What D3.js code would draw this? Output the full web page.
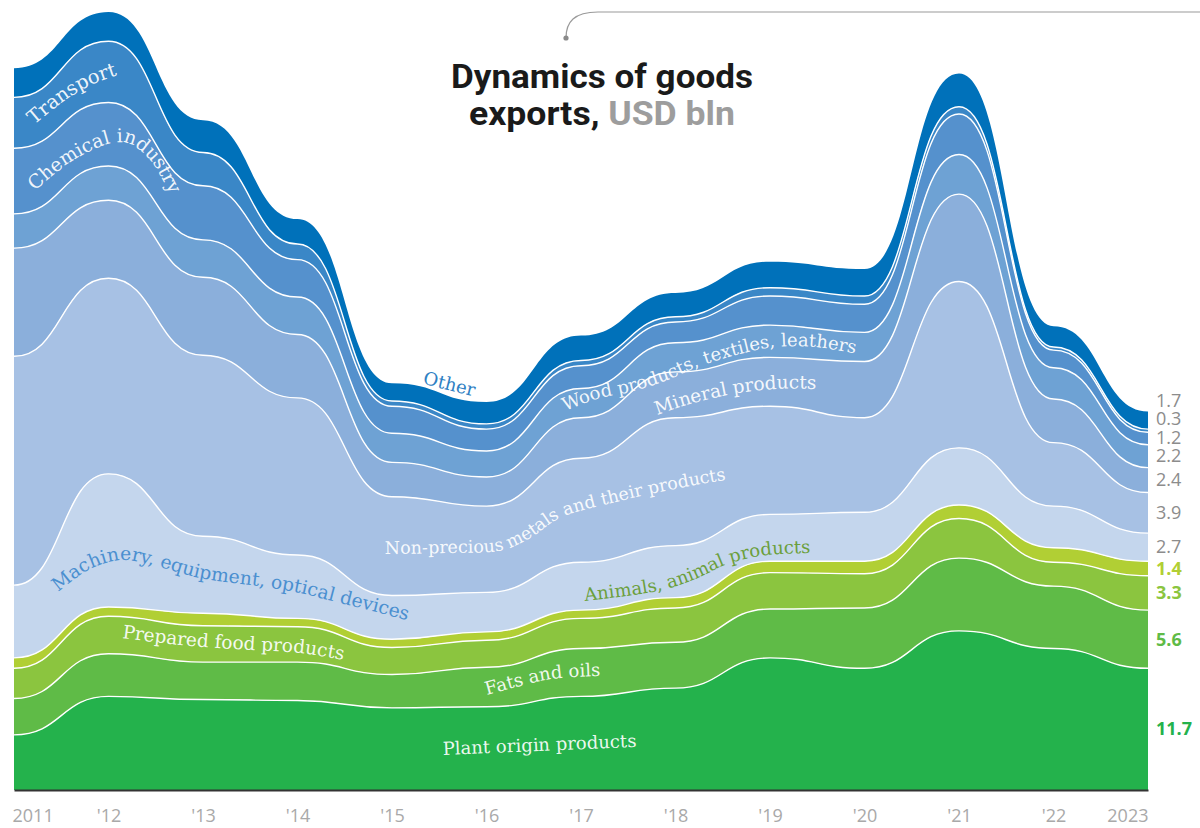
<!DOCTYPE html>
<html>
<head>
<meta charset="utf-8">
<script src="https://cdn.jsdelivr.net/npm/d3@7"></script>
<style>
  body { margin: 0; background: #fff; }
  svg { display: block; }
</style>
</head>
<body>
<svg id="chart" width="1200" height="828"></svg>
<script>
// ---------------- DATA ----------------
const years = [2011, 2012, 2013, 2014, 2015, 2016, 2017, 2018, 2019, 2020, 2021, 2022, 2023];
const tickLabels = ["2011", "'12", "'13", "'14", "'15", "'16", "'17", "'18", "'19", "'20", "'21", "'22", "2023"];

const seriesNames = [
  "Plant origin products",
  "Fats and oils",
  "Prepared food products",
  "Animals, animal products",
  "Machinery, equipment, optical devices",
  "Non-precious metals and their products",
  "Mineral products",
  "Wood products, textiles, leathers",
  "Chemical industry",
  "Transport",
  "Other"
];

const plantOrigin  = [5.3, 9.0, 8.7, 8.6, 7.9, 8.0, 9.0, 9.8, 12.7, 11.7, 15.3, 13.6, 11.7];
const fatsOils     = [3.5, 4.1, 3.6, 3.7, 3.2, 3.8, 4.6, 4.4, 4.7, 5.8, 7.0, 6.0, 5.6];
const preparedFood = [2.9, 3.6, 3.5, 3.4, 2.6, 2.6, 2.9, 3.3, 3.5, 3.3, 3.8, 2.3, 3.3];
const animals      = [1.0, 0.9, 1.2, 0.8, 0.8, 0.8, 0.8, 1.0, 1.1, 1.2, 1.3, 1.4, 1.4];
const machinery    = [7.0, 12.8, 7.4, 6.1, 4.2, 3.8, 4.6, 5.0, 4.5, 4.7, 5.5, 4.0, 2.7];
const metals       = [22.0, 18.8, 17.4, 15.1, 9.5, 8.3, 10.0, 12.3, 10.4, 9.1, 16.0, 6.1, 3.9];
const mineral      = [10.4, 7.5, 7.5, 6.1, 3.3, 2.8, 3.9, 4.4, 4.7, 5.4, 8.4, 4.2, 2.4];
const wood         = [3.3, 3.3, 3.6, 3.6, 2.8, 2.5, 2.8, 2.8, 3.1, 2.8, 3.8, 3.0, 2.2];
const chemical     = [6.3, 6.1, 5.2, 3.6, 2.6, 2.1, 2.2, 2.0, 2.8, 2.7, 3.9, 1.7, 1.2];
const transport    = [4.9, 5.9, 3.2, 1.5, 0.5, 0.5, 0.5, 0.5, 0.8, 0.8, 0.7, 0.3, 0.3];
const other        = [2.8, 2.8, 3.1, 2.4, 1.7, 2.1, 2.4, 2.3, 2.5, 2.6, 3.2, 2.0, 1.7];

const seriesValues = [plantOrigin, fatsOils, preparedFood, animals, machinery, metals,
                      mineral, wood, chemical, transport, other];

// ---------------- STYLE ----------------
const colors = ["#24b24c", "#5fbb47", "#8bc53f", "#b1cf34", "#c4d6ed", "#a7c1e4",
                "#8bafdb", "#6ea2d4", "#5591cd", "#3a87c7", "#0071ba"];
const valueColors = ["#24b24c", "#5fbb47", "#8bc53f", "#b1cf34", "#8c8c8c", "#8c8c8c",
                     "#8c8c8c", "#8c8c8c", "#8c8c8c", "#8c8c8c", "#8c8c8c"];
const valueBold = [true, true, true, true, false, false, false, false, false, false, false];

const svg = d3.select("#chart");
const x = d3.scaleLinear().domain([years[0], years[years.length - 1]]).range([14, 1148]);
const y = d3.scaleLinear().domain([0, 75]).range([790, 10]);

const rows = years.map((yr, i) => {
  const r = { year: yr };
  seriesNames.forEach((k, j) => r[k] = seriesValues[j][i]);
  return r;
});
const layers = d3.stack().keys(seriesNames)(rows);

const area = d3.area()
  .x(d => x(d.data.year))
  .y0(d => y(d[0]))
  .y1(d => y(d[1]))
  .curve(d3.curveBumpX);
const topLine = d3.line()
  .x(d => x(d.data.year))
  .y(d => y(d[1]))
  .curve(d3.curveBumpX);

const g = svg.append("g");
g.selectAll("path.layer").data(layers).join("path")
  .attr("class", "layer")
  .attr("d", area)
  .attr("fill", (d, i) => colors[i]);

g.selectAll("path.sep").data(layers.slice(0, -1)).join("path")
  .attr("class", "sep")
  .attr("d", topLine)
  .attr("fill", "none")
  .attr("stroke", "#ffffff")
  .attr("stroke-width", 1.4);

// ---------------- AXIS ----------------
const axis = d3.axisBottom(x)
  .tickValues(years)
  .tickFormat((d, i) => tickLabels[i])
  .tickSize(0)
  .tickSizeOuter(0);
const ax = svg.append("g").attr("transform", "translate(0,790)").call(axis);
ax.select(".domain").attr("stroke", "#333").attr("stroke-width", 2);
ax.selectAll("text")
  .attr("y", 32).attr("dy", 0)
  .attr("fill", "#a9a9a9")
  .style("font-family", "'Open Sans', sans-serif")
  .style("font-size", "18px");
ax.selectAll(".tick").filter((d, i) => i === 0).select("text").attr("text-anchor", "start").attr("x", -2);
ax.selectAll(".tick").filter((d, i) => i === years.length - 1).select("text").attr("text-anchor", "end").attr("x", 0);

// ---------------- RIGHT VALUE LABELS ----------------
const last = years.length - 1;
let mids = layers.map(L => y((L[last][0] + L[last][1]) / 2));
for (let i = 1; i < mids.length; i++) {
  if (mids[i] > mids[i - 1] - 18.5) mids[i] = mids[i - 1] - 18.5;
}
svg.append("g").selectAll("text").data(layers).join("text")
  .attr("x", 1156)
  .attr("y", (d, i) => mids[i])
  .attr("dy", "0.35em")
  .attr("fill", (d, i) => valueColors[i])
  .style("font-family", "'Open Sans', sans-serif")
  .style("font-size", "18px")
  .style("font-weight", (d, i) => valueBold[i] ? 700 : 400)
  .text((d, i) => d3.format(".1f")(seriesValues[i][last]));

// ---------------- SERIES LABELS (curved) ----------------
const labelDefs = [
  { text: "Plant origin products", color: "#ffffff", size: 18, pts: [[443,755],[540,751],[634,747],[680,746]] },
  { text: "Fats and oils", color: "#ffffff", size: 18, pts: [[487,695],[520,686],[552,679],[598,676],[640,675]] },
  { text: "Prepared food products", color: "#ffffff", size: 18.5, pts: [[122,638],[180,645],[250,650],[300,653],[350,661],[390,668]] },
  { text: "Animals, animal products", color: "#6b9f3c", size: 18, pts: [[585,601],[640,594],[670,588],[700,577],[725,565],[760,556],[805,553],[860,552]] },
  { text: "Machinery, equipment, optical devices", color: "#4a8fd0", size: 18.7, pts: [[58,592],[90,569],[122,560],[152,565],[200,578],[265,587],[300,593],[340,603],[380,613],[418,623],[460,632]] },
  { text: "Non-precious metals and their products", color: "#ffffff", size: 17.5, pts: [[385,554],[445,553],[503,550],[530,538],[560,518],[620,501],[680,488],[725,480],[780,472]] },
  { text: "Mineral products", color: "#ffffff", size: 18.5, pts: [[657,415],[690,404],[733,394],[775,389],[820,389],[860,391]] },
  { text: "Wood products, textiles, leathers", color: "#ffffff", size: 18, pts: [[565,411],[600,398],[630,392],[665,381],[700,366],[740,354],[775,347],[815,347],[858,354],[900,362]] },
  { text: "Chemical industry", color: "#ffffff", size: 19, pts: [[35,191],[72,161],[112,143],[130,144],[150,160],[166,186],[182,220],[195,250]] },
  { text: "Transport", color: "#ffffff", size: 19.5, pts: [[34,125],[60,104],[85,88],[118,75],[150,68]] }
];
const lineGen = d3.line().curve(d3.curveCatmullRom.alpha(0.5));
const defs = svg.append("defs");
labelDefs.forEach((L, i) => {
  defs.append("path").attr("id", "lp" + i).attr("d", lineGen(L.pts));
  svg.append("text")
    .style("font-family", "'DejaVu Serif', serif")
    .style("font-size", L.size + "px")
    .attr("fill", L.color)
    .attr("fill-opacity", L.color === "#ffffff" ? 0.93 : 1)
    .append("textPath")
    .attr("href", "#lp" + i)
    .attr("startOffset", 0)
    .text(L.text);
});
// "Other" label above the top band
svg.append("text")
  .attr("transform", "translate(448,390) rotate(14)")
  .attr("text-anchor", "middle")
  .style("font-family", "'DejaVu Serif', serif")
  .style("font-size", "18px")
  .attr("fill", "#2f80c3")
  .text("Other");

// ---------------- TITLE ----------------
svg.append("path")
  .attr("d", "M566,38 C566,22 574,12 598,12 L1200,12")
  .attr("fill", "none").attr("stroke", "#9a9a9a").attr("stroke-width", 1.2);
svg.append("circle").attr("cx", 566).attr("cy", 38).attr("r", 2.6).attr("fill", "#8a8a8a");

svg.append("text")
  .attr("x", 451).attr("y", 88)
  .attr("textLength", 302).attr("lengthAdjust", "spacingAndGlyphs")
  .style("font-family", "Roboto, sans-serif").style("font-weight", 700).style("font-size", "34px")
  .attr("fill", "#1a1a1a")
  .text("Dynamics of goods");
const t2 = svg.append("text")
  .attr("x", 469).attr("y", 125)
  .attr("textLength", 266).attr("lengthAdjust", "spacingAndGlyphs")
  .style("font-family", "Roboto, sans-serif").style("font-weight", 700).style("font-size", "34px")
  .attr("fill", "#1a1a1a");
t2.append("tspan").text("exports, ");
t2.append("tspan").attr("fill", "#9d9d9d").text("USD bln");
</script>
</body>
</html>
